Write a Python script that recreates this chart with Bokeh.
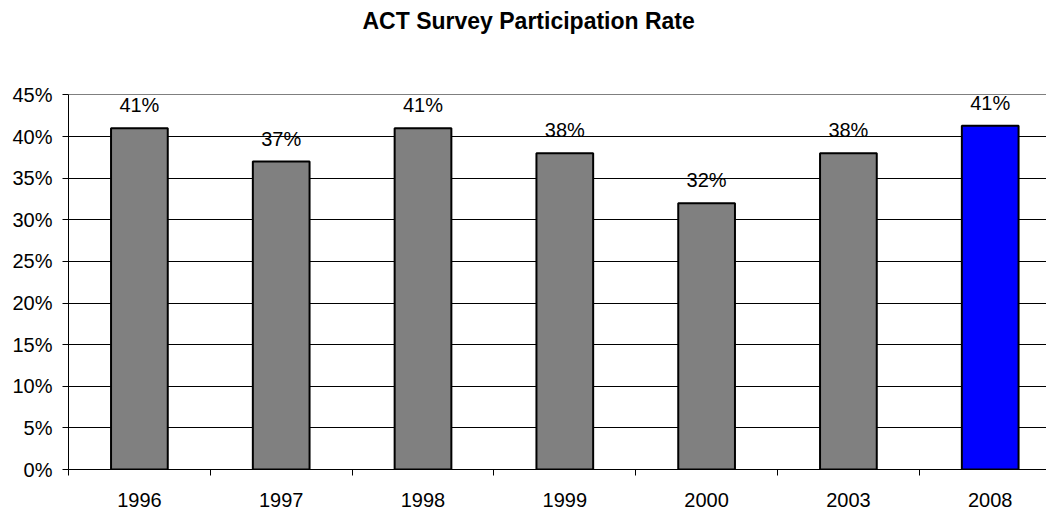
from bokeh.plotting import figure
from bokeh.models import ColumnDataSource, Range1d, FixedTicker, NumeralTickFormatter, LabelSet, Title
from bokeh.core.properties import value
from bokeh.embed import file_html
from bokeh.resources import INLINE

years = ["1996", "1997", "1998", "1999", "2000", "2003", "2008"]
rates = [41.0, 37.0, 41.0, 38.0, 32.0, 38.0, 41.3]  # percent
title_text = "ACT Survey Participation Rate"

FONT = "Liberation Sans"

xs = list(range(len(years)))
fills = ["#808080"] * (len(years) - 1) + ["#0000FF"]
src = ColumnDataSource(dict(
    x=xs,
    top=[r / 100 for r in rates],
    fill=fills,
    label=[f"{round(r)}%" for r in rates],
))

p = figure(width=1046, height=510, output_backend="svg", toolbar_location=None,
           x_range=Range1d(-0.5, 6.397), y_range=Range1d(0, 0.4505),
           min_border_left=68, min_border_right=0, min_border_bottom=41, min_border_top=94)

# spacer between the title and the plot area (closest to the frame)
p.add_layout(Title(text=" ", text_font_size="1px", standoff=55), "above")
# the chart title, stacked above the spacer
p.add_layout(Title(text=title_text, align="left", offset=294, vertical_align="top",
                   standoff=2, text_font=FONT, text_font_size="23px",
                   text_font_style="bold", text_color="black"), "above")

p.vbar(x="x", top="top", width=0.40, bottom=0, source=src,
       fill_color="fill", line_color="black", line_width=2)

labels = LabelSet(x="x", y="top", text="label", source=src, text_align="center",
                  text_baseline="alphabetic", y_offset=16, text_font=value(FONT),
                  text_font_size="20px", text_color="black")
p.add_layout(labels)

p.outline_line_color = None
p.xgrid.visible = False
p.ygrid.grid_line_color = "black"
p.ygrid.grid_line_width = 1
p.ygrid.ticker = FixedTicker(ticks=[i * 0.05 for i in range(10)])

p.yaxis.ticker = FixedTicker(ticks=[i * 0.05 for i in range(10)])
p.yaxis.formatter = NumeralTickFormatter(format="0%")
p.yaxis.major_tick_out = 6
p.yaxis.major_tick_in = 0
p.yaxis.minor_tick_line_color = None
p.yaxis.major_label_standoff = 10
p.yaxis.axis_line_color = "black"
p.yaxis.major_label_text_font = FONT
p.yaxis.major_label_text_font_size = "20px"
p.yaxis.major_label_text_color = "black"

p.xaxis.ticker = FixedTicker(ticks=xs, minor_ticks=[i - 0.5 for i in range(len(years) + 1)])
p.xaxis.major_label_overrides = {i: y for i, y in zip(xs, years)}
p.xaxis.major_tick_line_color = None
p.xaxis.major_tick_out = 0
p.xaxis.major_tick_in = 0
p.xaxis.minor_tick_out = 6
p.xaxis.minor_tick_in = 0
p.xaxis.minor_tick_line_color = "black"
p.xaxis.major_label_standoff = 17
p.xaxis.major_label_text_line_height = 0.8
p.xaxis.axis_line_color = "black"
p.xaxis.major_label_text_font = FONT
p.xaxis.major_label_text_font_size = "20px"
p.xaxis.major_label_text_color = "black"

open("out.html", "w").write(file_html(p, INLINE))
